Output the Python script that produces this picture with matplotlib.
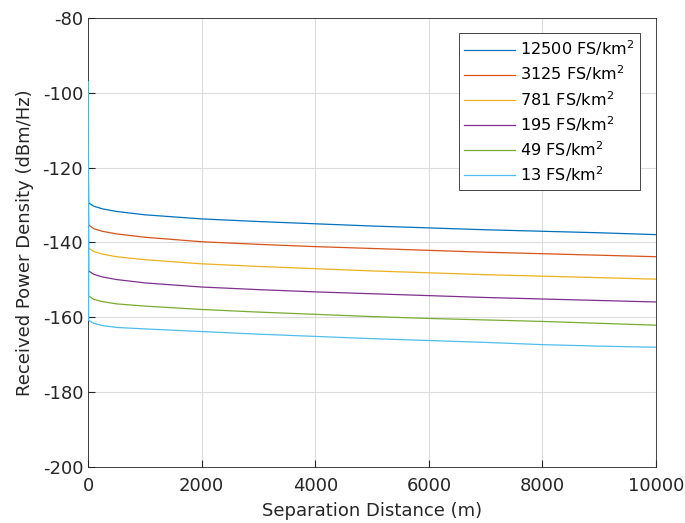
import matplotlib
matplotlib.use('Agg')
import matplotlib.pyplot as plt

plt.rcParams['font.family'] = 'DejaVu Sans'
plt.rcParams['axes.unicode_minus'] = False
plt.rcParams['mathtext.default'] = 'regular'

# separation distance (m)
dist = [0, 10, 100, 250, 500, 1000, 2000, 3000, 4000, 5000, 6000, 7000, 8000, 9000, 10000]

# received power density (dBm/Hz) per femtocell density
p12500 = [-97, -129.4, -130.3, -131.0, -131.7, -132.6, -133.7, -134.4, -135.0, -135.6, -136.1, -136.6, -137.0, -137.4, -137.9]
p3125 = [-97, -135.3, -136.3, -137.0, -137.7, -138.6, -139.8, -140.5, -141.1, -141.6, -142.1, -142.6, -143.0, -143.4, -143.8]
p781 = [-97, -141.5, -142.4, -143.1, -143.8, -144.6, -145.7, -146.4, -147.0, -147.6, -148.1, -148.6, -149.0, -149.4, -149.8]
p195 = [-97, -147.6, -148.5, -149.2, -149.9, -150.8, -151.9, -152.6, -153.2, -153.7, -154.2, -154.7, -155.1, -155.5, -155.9]
p49 = [-97, -154.3, -155.2, -155.8, -156.4, -157.0, -157.9, -158.6, -159.2, -159.8, -160.3, -160.7, -161.1, -161.6, -162.1]
p13 = [-97, -160.8, -161.6, -162.2, -162.7, -163.1, -163.8, -164.5, -165.1, -165.7, -166.2, -166.7, -167.3, -167.7, -168.0]

labels = ['12500 FS/km$^2$', '3125 FS/km$^2$', '781 FS/km$^2$',
          '195 FS/km$^2$', '49 FS/km$^2$', '13 FS/km$^2$']
colors = ['#0072BD', '#D95319', '#EDB120', '#7E2F8E', '#77AC30', '#4DBEEE']
series = [p12500, p3125, p781, p195, p49, p13]

fig = plt.figure(figsize=(6.85, 5.23), dpi=100)
ax = fig.add_axes([0.1285, 0.1071, 0.8292, 0.8585])

for vals, lab, c in zip(series, labels, colors):
    ax.plot(dist, vals, color=c, linewidth=0.9, label=lab, zorder=3)

ax.set_xlim(0, 10000)
ax.set_ylim(-200, -80)
ax.set_xticks(range(0, 10001, 2000))
ax.set_yticks(range(-200, -79, 20))
ax.grid(True, color='#dcdcdc', linewidth=0.8)
ax.tick_params(direction='in', labelsize=13, colors='#262626', length=5)
ax.tick_params(axis='x', pad=7)
for s in ax.spines.values():
    s.set_color('#262626')
    s.set_linewidth(0.6)

ax.set_xlabel('Separation Distance (m)', fontsize=13, color='#262626', labelpad=5)
ax.set_ylabel('Received Power Density (dBm/Hz)', fontsize=13, color='#262626', labelpad=6)

leg = ax.legend(loc='upper right', bbox_to_anchor=(0.972, 0.967), fontsize=11.6,
                handlelength=3.15, fancybox=False, framealpha=1, edgecolor='#262626',
                borderpad=0.35, labelspacing=0.34, handletextpad=0.3, borderaxespad=0)
leg.get_frame().set_linewidth(0.6)
leg.set_zorder(5)

fig.savefig('out.png', dpi=100)
